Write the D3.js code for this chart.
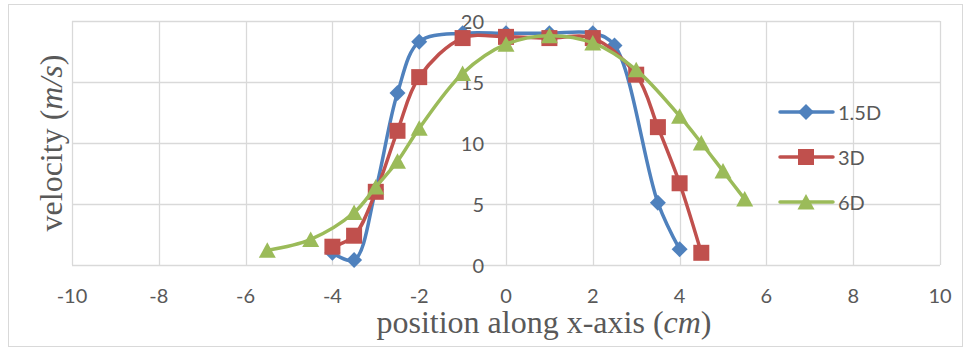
<!DOCTYPE html>
<html><head><meta charset="utf-8">
<script src="https://cdn.jsdelivr.net/npm/d3@7"></script>
<style>body{margin:0;background:#fff}svg{display:block}</style>
</head><body>
<script>
const seriesNames = ["1.5D", "3D", "6D"];
const seriesColors = ["#4F81BD", "#C0504D", "#9BBB59"];
const markerTypes = ["diamond", "square", "triangle"];
const x15 = [-4, -3.5, -3, -2.5, -2, -1, 0, 1, 2, 2.5, 3.5, 4];
const y15 = [1.0, 0.4, 6.2, 14.1, 18.3, 19.0, 19.0, 19.0, 19.0, 18.0, 5.1, 1.3];
const x3 = [-4, -3.5, -3, -2.5, -2, -1, 0, 1, 2, 3, 3.5, 4, 4.5];
const y3 = [1.5, 2.4, 6.0, 11.0, 15.4, 18.6, 18.7, 18.6, 18.6, 15.6, 11.3, 6.7, 1.0];
const x6 = [-5.5, -4.5, -3.5, -3, -2.5, -2, -1, 0, 1, 2, 3, 4, 4.5, 5, 5.5];
const y6 = [1.2, 2.1, 4.3, 6.4, 8.5, 11.2, 15.7, 18.1, 18.8, 18.2, 16.0, 12.2, 10.0, 7.7, 5.4];
const xTicks = [-10, -8, -6, -4, -2, 0, 2, 4, 6, 8, 10];
const yTicks = [0, 5, 10, 15, 20];
const xTitle = "position along x-axis (";
const xTitleUnit = "cm";
const yTitle = "velocity (";
const yTitleUnit = "m/s";

const W = 965, H = 351;
const svg = d3.select("body").append("svg").attr("width", W).attr("height", H);
svg.append("rect").attr("x", 8.5).attr("y", 4.5).attr("width", 954).attr("height", 342)
  .attr("fill", "#fff").attr("stroke", "#D9D9D9").attr("stroke-width", 1);

const x = d3.scaleLinear().domain([-10, 10]).range([72, 940]);
const y = d3.scaleLinear().domain([0, 20]).range([265, 21]);

const grid = svg.append("g");
grid.selectAll("line.v").data(xTicks).join("line")
  .attr("x1", d => Math.round(x(d)) + 0.5).attr("x2", d => Math.round(x(d)) + 0.5)
  .attr("y1", y(20)).attr("y2", y(0)).attr("stroke", "#D9D9D9").attr("stroke-width", 1.3);
grid.selectAll("line.h").data(yTicks).join("line")
  .attr("y1", d => Math.round(y(d)) + 0.5).attr("y2", d => Math.round(y(d)) + 0.5)
  .attr("x1", x(-10)).attr("x2", x(10)).attr("stroke", "#D9D9D9").attr("stroke-width", 1.3);

const tickFont = "Lato, 'Open Sans', sans-serif";
svg.append("g").selectAll("text").data(xTicks).join("text")
  .attr("x", d => x(d)).attr("y", 295).attr("text-anchor", "middle").attr("dominant-baseline", "central")
  .attr("font-family", tickFont).attr("font-size", 20).attr("fill", "#595959").text(d => d);
svg.append("g").selectAll("text").data(yTicks).join("text")
  .attr("x", x(0) - 22).attr("y", d => y(d)).attr("text-anchor", "end").attr("dominant-baseline", "central")
  .attr("font-family", tickFont).attr("font-size", 20).attr("fill", "#595959").text(d => d);

const titleFont = "'Liberation Serif', 'Times New Roman', serif";
const xt = svg.append("text").attr("x", 544).attr("y", 333).attr("text-anchor", "middle")
  .attr("font-family", titleFont).attr("font-size", 32).attr("fill", "#595959");
xt.append("tspan").text(xTitle);
xt.append("tspan").attr("font-style", "italic").text(xTitleUnit);
xt.append("tspan").text(")");
const yt = svg.append("text").attr("transform", "translate(62,143) rotate(-90)").attr("text-anchor", "middle")
  .attr("font-family", titleFont).attr("font-size", 32).attr("fill", "#595959");
yt.append("tspan").text(yTitle);
yt.append("tspan").attr("font-style", "italic").text(yTitleUnit);
yt.append("tspan").text(")");

function markerPath(type) {
  if (type === "diamond") return "M0,-8L8,0L0,8L-8,0Z";
  if (type === "square") return "M-8,-8H8V8H-8Z";
  return "M0,-8L8.5,7.5L-8.5,7.5Z";
}

const data = [
  x15.map((v, i) => [v, y15[i]]),
  x3.map((v, i) => [v, y3[i]]),
  x6.map((v, i) => [v, y6[i]])
];
const line = d3.line().x(d => x(d[0])).y(d => y(d[1])).curve(d3.curveCatmullRom.alpha(0.5));

data.forEach((pts, i) => {
  const g = svg.append("g");
  g.append("path").attr("d", line(pts)).attr("fill", "none")
    .attr("stroke", seriesColors[i]).attr("stroke-width", 3.5).attr("stroke-linejoin", "round").attr("stroke-linecap", "round");
  g.selectAll("path.m").data(pts).join("path").attr("class", "m")
    .attr("d", markerPath(markerTypes[i]))
    .attr("transform", d => `translate(${x(d[0])},${y(d[1])})`)
    .attr("fill", seriesColors[i]);
});

const legY = [112, 157, 202];
seriesNames.forEach((n, i) => {
  const g = svg.append("g");
  g.append("line").attr("x1", 780).attr("x2", 833).attr("y1", legY[i]).attr("y2", legY[i])
    .attr("stroke", seriesColors[i]).attr("stroke-width", 3.5).attr("stroke-linecap", "round");
  g.append("path").attr("d", markerPath(markerTypes[i])).attr("transform", `translate(806,${legY[i]})`)
    .attr("fill", seriesColors[i]);
  g.append("text").attr("x", 838).attr("y", legY[i]).attr("dominant-baseline", "central")
    .attr("font-family", tickFont).attr("font-size", 20).attr("fill", "#595959").text(n);
});
</script>
</body></html>
